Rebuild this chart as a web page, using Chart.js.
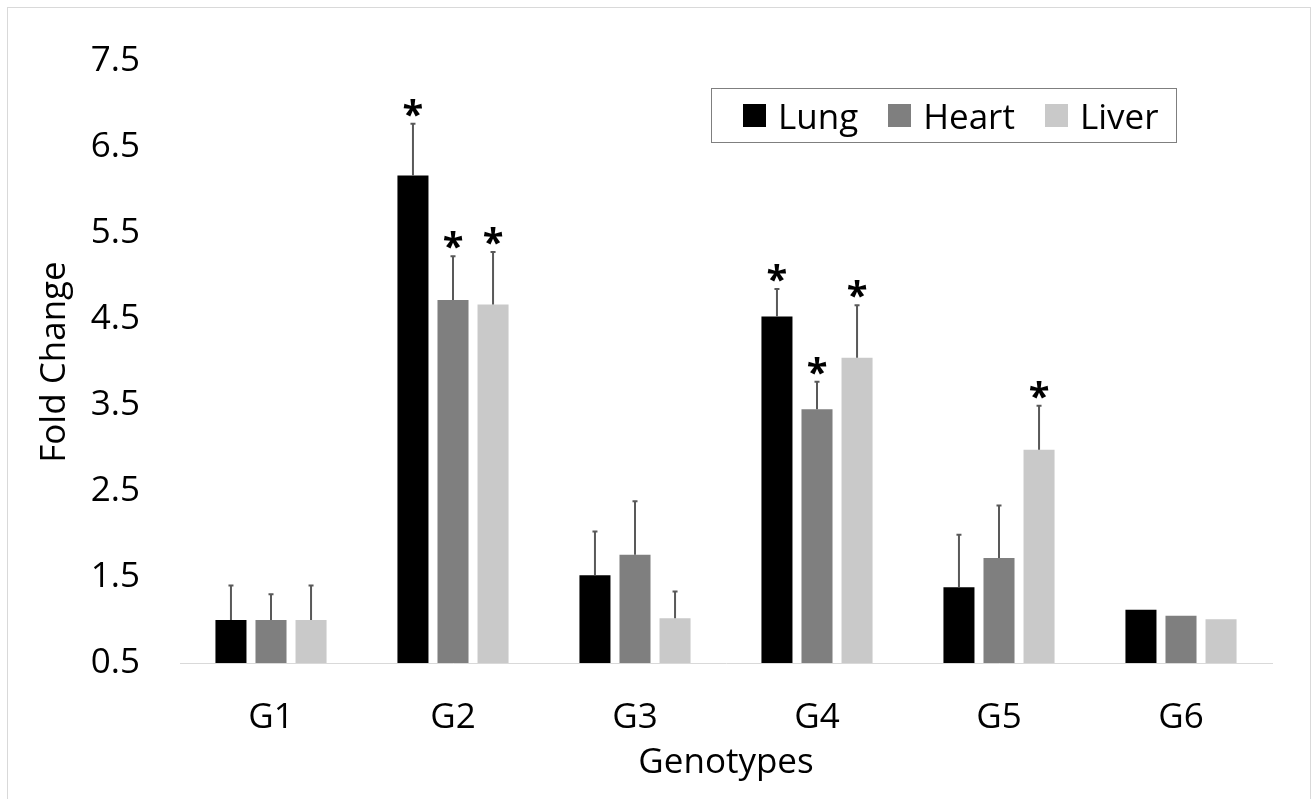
<!DOCTYPE html>
<html>
<head>
<meta charset="utf-8">
<title>Fold Change by Genotype</title>
<script src="https://cdn.jsdelivr.net/npm/chart.js@4"></script>
<style>
    html, body { margin: 0; padding: 0; background: #fff; }
    #wrap { position: relative; width: 1314px; height: 799px; overflow: hidden; }
    #frame { position: absolute; left: 7px; top: 7px; width: 1302px; height: 820px;
             border: 1px solid #d9d9d9; pointer-events: none; }
    #legend { position: absolute; left: 711px; top: 88px; width: 464px; height: 53px;
              border: 1px solid #7f7f7f; display: flex; align-items: center;
              font: 35px "Open Sans", sans-serif; color: #000; box-sizing: content-box; }
    #legend .item { display: flex; align-items: center; }
    #legend .sw { width: 23px; height: 23px; margin-right: 12px; }
</style>
</head>
<body>
<div id="wrap">
    <canvas id="chart" width="1314" height="799"></canvas>
    <div id="frame"></div>
    <div id="legend"></div>
</div>
<script>
(function () {
    "use strict";

    const CATEGORIES = ["G1", "G2", "G3", "G4", "G5", "G6"];
    const SERIES = ["Lung", "Heart", "Liver"];
    const COLORS = ["#000000", "#7f7f7f", "#c9c9c9"];

    const lung  = [1.00, 6.17, 1.52, 4.53, 1.38, 1.12];
    const heart = [1.00, 4.72, 1.76, 3.45, 1.72, 1.05];
    const liver = [1.00, 4.67, 1.02, 4.05, 2.98, 1.01];

    const lungErr  = [0.40, 0.60, 0.51, 0.32, 0.61, 0];
    const heartErr = [0.30, 0.51, 0.62, 0.32, 0.61, 0];
    const liverErr = [0.40, 0.61, 0.31, 0.61, 0.51, 0];

    // 1 = значимо, рисуем звёздочку над планкой
    const lungSig  = [0, 1, 0, 1, 0, 0];
    const heartSig = [0, 1, 0, 1, 0, 0];
    const liverSig = [0, 1, 0, 1, 1, 0];

    const Y_TICKS = [0.5, 1.5, 2.5, 3.5, 4.5, 5.5, 6.5, 7.5];

    const FONT = "'Open Sans', sans-serif";
    const values = [lung, heart, liver];
    const errors = [lungErr, heartErr, liverErr];
    const signif = [lungSig, heartSig, liverSig];

    const errorBars = {
        id: "errorBars",
        afterDatasetsDraw(chart) {
            const { ctx, scales: { y } } = chart;
            ctx.save();
            for (let d = 0; d < values.length; d++) {
                const meta = chart.getDatasetMeta(d);
                meta.data.forEach((bar, i) => {
                    const top = y.getPixelForValue(values[d][i] + errors[d][i]);
                    if (errors[d][i] > 0) {
                        ctx.strokeStyle = "#595959";
                        ctx.lineWidth = 2;
                        ctx.beginPath();
                        ctx.moveTo(bar.x, bar.y);
                        ctx.lineTo(bar.x, top);
                        ctx.moveTo(bar.x - 2.5, top);
                        ctx.lineTo(bar.x + 2.5, top);
                        ctx.stroke();
                    }
                    if (signif[d][i]) {
                        ctx.fillStyle = "#000";
                        ctx.font = "bold 38px " + FONT;
                        ctx.textAlign = "center";
                        ctx.textBaseline = "alphabetic";
                        ctx.fillText("*", bar.x, top + 4);
                    }
                });
            }
            ctx.restore();
        },
    };

    const ctx = document.getElementById("chart").getContext("2d");
    new Chart(ctx, {
        type: "bar",
        data: {
            labels: CATEGORIES,
            datasets: SERIES.map((name, d) => ({
                label: name,
                data: values[d],
                backgroundColor: COLORS[d],
                borderWidth: 0,
                categoryPercentage: 0.66,
                barPercentage: 0.775,
            })),
        },
        options: {
            responsive: false,
            animation: false,
            layout: { padding: { top: 54, right: 42, bottom: 0, left: 0 } },
            plugins: { legend: { display: false }, tooltip: { enabled: false } },
            scales: {
                x: {
                    grid: { display: false, drawTicks: false },
                    border: { display: true, color: "#d9d9d9", width: 1 },
                    ticks: { color: "#000", padding: 34, font: { family: FONT, size: 35 } },
                    title: {
                        display: true, text: "Genotypes", color: "#000",
                        font: { family: FONT, size: 35 }, padding: { top: 0, bottom: 15 },
                    },
                    afterFit(s) { s.height = 136; },
                },
                y: {
                    min: Y_TICKS[0],
                    max: Y_TICKS[Y_TICKS.length - 1],
                    grid: { display: false, drawTicks: false },
                    border: { display: false },
                    afterBuildTicks(s) { s.ticks = Y_TICKS.map(v => ({ value: v })); },
                    ticks: {
                        color: "#000", padding: 40,
                        font: { family: FONT, size: 35 },
                        callback: v => Number(v).toFixed(1),
                    },
                    title: {
                        display: true, text: "Fold Change", color: "#000",
                        font: { family: FONT, size: 35 }, padding: { top: 34, bottom: 0 },
                    },
                    afterFit(s) { s.width = 180; },
                },
            },
        },
        plugins: [errorBars],
    });

    const legend = document.getElementById("legend");
    const gaps = [31, 30, 30];
    SERIES.forEach((name, d) => {
        const item = document.createElement("div");
        item.className = "item";
        item.style.marginLeft = gaps[d] + "px";
        const sw = document.createElement("span");
        sw.className = "sw";
        sw.style.background = COLORS[d];
        const label = document.createElement("span");
        label.textContent = name;
        item.appendChild(sw);
        item.appendChild(label);
        legend.appendChild(item);
    });
})();
</script>
</body>
</html>
